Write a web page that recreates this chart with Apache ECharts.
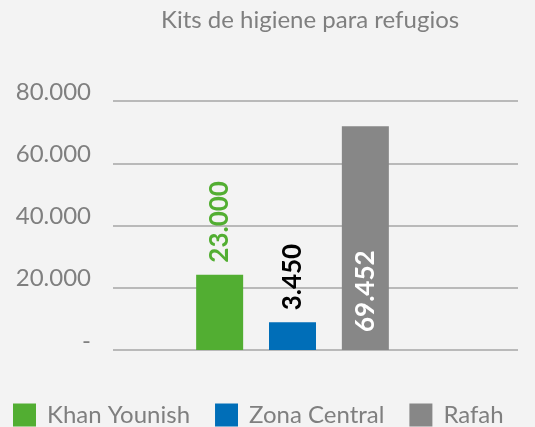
<!DOCTYPE html>
<html>
<head>
<meta charset="utf-8">
<script src="https://cdn.jsdelivr.net/npm/echarts@6/dist/echarts.min.js"></script>
<style>
  html, body { margin: 0; padding: 0; background: #f3f3f3; }
  #chart { width: 535px; height: 427px; }
</style>
</head>
<body>
<div id="chart"></div>
<script>
var seriesNames = ['Khan Younish', 'Zona Central', 'Rafah'];
var seriesColors = ['#52ae32', '#006eb8', '#878787'];
// bar heights as drawn in the picture
var barHeights = [24200, 8900, 71900];
// values printed on the bars
var printedValues = [23000, 3450, 69452];
var yTicks = [0, 20000, 40000, 60000, 80000];

function fmt(n) {
    return String(n).replace(/\B(?=(\d{3})+(?!\d))/g, '.');
}

var chart = echarts.init(document.getElementById('chart'));
var font = 'Lato, "Noto Sans", sans-serif';
var labelColors = ['#52ae32', '#000000', '#ffffff'];

var series = seriesNames.map(function (name, i) {
    var inside = i === 2;
    return {
        name: name,
        type: 'bar',
        xAxisIndex: 1,
        yAxisIndex: 1,
        barWidth: 47,
        barGap: '55%',
        itemStyle: { color: seriesColors[i] },
        data: [barHeights[i]],
        label: {
            show: true,
            position: inside ? 'insideBottom' : 'top',
            distance: inside ? 18 : 12,
            rotate: 90,
            align: 'left',
            verticalAlign: 'middle',
            fontFamily: font,
            fontWeight: 'bold',
            fontSize: 26,
            color: labelColors[i],
            formatter: function () { return fmt(printedValues[i]); }
        }
    };
});

var option = {
    backgroundColor: '#f3f3f3',
    animation: false,
    textStyle: { fontFamily: font },
    title: {
        text: 'Kits de higiene para refugios',
        left: 156,
        top: 3,
        textStyle: { color: '#7f7f7f', fontSize: 24, fontWeight: 'normal', fontFamily: font }
    },
    legend: {
        left: 8,
        top: 398,
        icon: 'rect',
        itemWidth: 23,
        itemHeight: 23,
        itemGap: 25,
        data: seriesNames,
        textStyle: { color: '#7f7f7f', fontSize: 24, fontFamily: font, padding: [0, 0, 0, 6] }
    },
    grid: [
        { left: 113, right: 17, top: 101, bottom: 77 },
        { left: 113, right: 63, top: 101, bottom: 77 }
    ],
    xAxis: [
        { type: 'category', gridIndex: 0, data: [''], show: false },
        { type: 'category', gridIndex: 1, data: [''], show: false }
    ],
    yAxis: [
        {
            type: 'value', gridIndex: 0,
            min: yTicks[0], max: yTicks[yTicks.length - 1], interval: yTicks[1] - yTicks[0],
            axisLine: { show: false },
            axisTick: { show: false },
            axisLabel: {
                margin: 22,
                color: '#7f7f7f',
                fontSize: 24,
                lineHeight: 18,
                fontFamily: font,
                verticalAlign: 'bottom',
                formatter: function (v) { return v === 0 ? '-' : fmt(v); }
            },
            splitLine: { lineStyle: { color: '#a6a6a6', width: 1.5 } }
        },
        {
            type: 'value', gridIndex: 1,
            min: yTicks[0], max: yTicks[yTicks.length - 1], interval: yTicks[1] - yTicks[0],
            show: false
        }
    ],
    series: series
};

chart.setOption(option);
</script>
</body>
</html>
